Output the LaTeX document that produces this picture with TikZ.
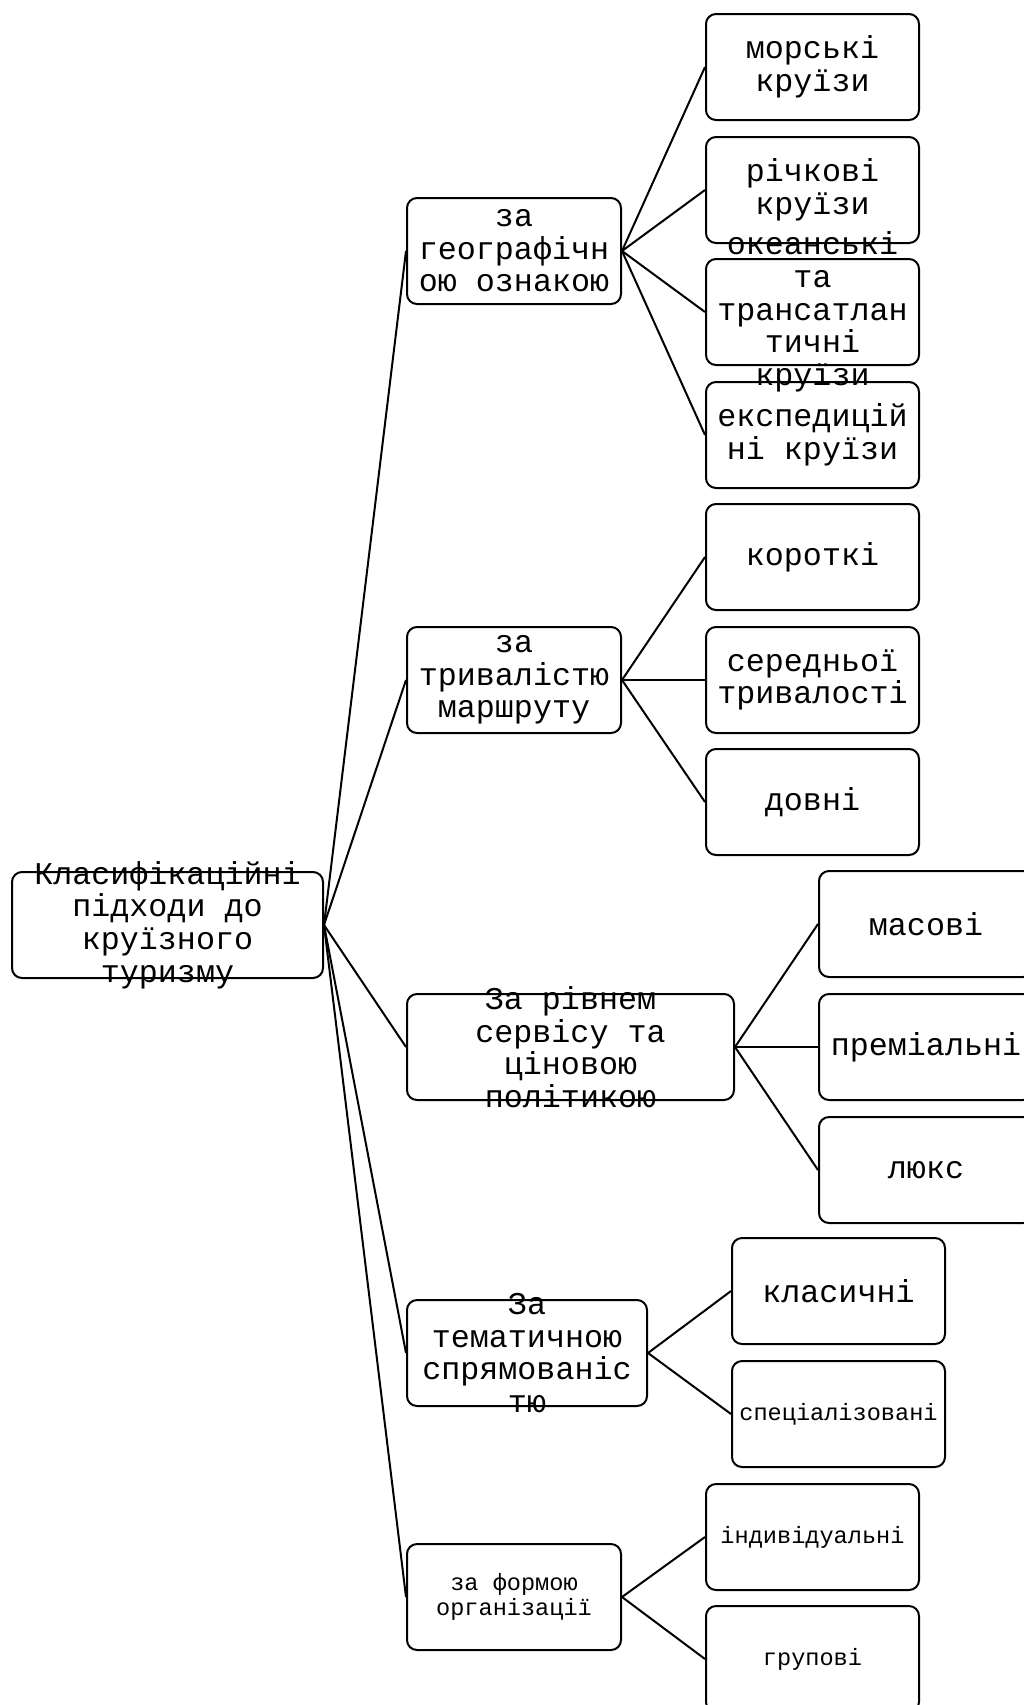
\documentclass[tikz,border=0pt]{standalone}
\usepackage{fontspec}
\newfontfamily\boxfont{Liberation Mono}
\newcommand{\bigtxt}{\boxfont\fontsize{31.7}{32.6}\selectfont}
\newcommand{\smalltxt}{\boxfont\fontsize{23.6}{24.5}\selectfont}
% fixed-height box text, overflowing lines spill out evenly
\newcommand{\boxtext}[2]{\parbox[c][106pt][c]{#1}{\centering #2}}

\begin{document}
\begin{tikzpicture}[x=1pt,y=-1pt,
  box/.style={draw, line width=2pt, rounded corners=10pt, inner sep=0pt, anchor=north west},
  link/.style={line width=2pt}]
\useasboundingbox (0,0) rectangle (1024,1705);

% root
\node[box] (root) at (11,871) {\boxtext{311pt}{\bigtxt Класифікаційні\\підходи до\\круїзного\\туризму}};

% first level
\node[box] (geo)   at (406,197)  {\boxtext{214pt}{\bigtxt за\\географічн\\ою ознакою}};
\node[box] (dur)   at (406,626)  {\boxtext{214pt}{\bigtxt за\\тривалістю\\маршруту}};
\node[box] (serv)  at (406,993)  {\boxtext{327pt}{\bigtxt За рівнем\\сервісу та\\ціновою\\політикою}};
\node[box] (theme) at (406,1299) {\boxtext{240pt}{\bigtxt За\\тематичною\\спрямованіс\\тю}};
\node[box] (form)  at (406,1543) {\boxtext{214pt}{\smalltxt за формою\\організації}};

% second level
\node[box] (sea)   at (705,13)   {\boxtext{213pt}{\bigtxt морські\\круїзи}};
\node[box] (river) at (705,136)  {\boxtext{213pt}{\bigtxt річкові\\круїзи}};
\node[box] (ocean) at (705,258)  {\boxtext{213pt}{\bigtxt океанські\\та\\трансатлан\\тичні\\круїзи}};
\node[box] (exped) at (705,381)  {\boxtext{213pt}{\bigtxt експедицій\\ні круїзи}};

\node[box] (short) at (705,503)  {\boxtext{213pt}{\bigtxt короткі}};
\node[box] (mid)   at (705,626)  {\boxtext{213pt}{\bigtxt середньої\\тривалості}};
\node[box] (long)  at (705,748)  {\boxtext{213pt}{\bigtxt довні}};

\node[box] (mass)  at (818,870)  {\boxtext{214pt}{\bigtxt масові}};
\node[box] (prem)  at (818,993)  {\boxtext{214pt}{\bigtxt преміальні}};
\node[box] (lux)   at (818,1116) {\boxtext{214pt}{\bigtxt люкс}};

\node[box] (clas)  at (731,1237) {\boxtext{213pt}{\bigtxt класичні}};
\node[box] (spec)  at (731,1360) {\boxtext{213pt}{\smalltxt спеціалізовані}};

\node[box] (indiv) at (705,1483) {\boxtext{213pt}{\smalltxt індивідуальні}};
\node[box] (group) at (705,1605) {\boxtext{213pt}{\smalltxt групові}};

% links
\foreach \k in {geo,dur,serv,theme,form}
  \draw[link] (root.east) -- (\k.west);
\foreach \k in {sea,river,ocean,exped}
  \draw[link] (geo.east) -- (\k.west);
\foreach \k in {short,mid,long}
  \draw[link] (dur.east) -- (\k.west);
\foreach \k in {mass,prem,lux}
  \draw[link] (serv.east) -- (\k.west);
\foreach \k in {clas,spec}
  \draw[link] (theme.east) -- (\k.west);
\foreach \k in {indiv,group}
  \draw[link] (form.east) -- (\k.west);
\end{tikzpicture}
\end{document}
